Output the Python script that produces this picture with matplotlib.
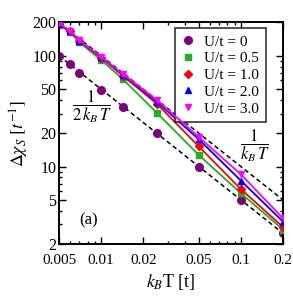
import matplotlib
matplotlib.use('Agg')
from matplotlib import pyplot as plt
from matplotlib.ticker import FixedLocator, NullFormatter, LogLocator

plt.rcParams['font.family'] = ['Liberation Serif', 'DejaVu Serif']
plt.rcParams['mathtext.fontset'] = 'stix'

# temperatures k_B T [t]
T = [0.005, 0.006, 0.007, 0.01, 0.0143, 0.025, 0.05, 0.1, 0.2]

# Delta chi_S for each U/t
chi_u0 = [100, 84, 70, 49.5, 34.8, 20, 10, 5, 2.5]
chi_u05 = [190, 164, 132, 91.7, 61.5, 30.7, 12.7, 5.74, 2.7]
chi_u10 = [193, 166, 136, 96, 66, 37, 15.2, 6.24, 2.85]
chi_u20 = [195, 167, 137, 97.5, 67.5, 38.5, 17.6, 7.46, 3.18]
chi_u30 = [196, 168, 138, 98, 68.5, 40, 18.5, 8.5, 3.41]

# reference lines 1/(k_B T) and 1/(2 k_B T)
ref_T = [0.005, 0.2]
ref_1 = [200, 5]
ref_2 = [100, 2.5]

labels = ['U/t = 0', 'U/t = 0.5', 'U/t = 1.0', 'U/t = 2.0', 'U/t = 3.0']
colors = ['#800080', '#22b022', '#ff0000', '#0000ff', '#ff00ff']
markers = ['o', 's', 'D', '^', 'v']
msizes = [5.5, 4.5, 3.8, 5, 5]

fig = plt.figure(figsize=(2.93, 2.99), dpi=100)
ax = fig.add_axes([0.2014, 0.184, 0.7645, 0.7408])

ax.plot(ref_T, ref_1, 'k--', lw=1.1, dashes=(3, 2), zorder=1)
ax.plot(ref_T, ref_2, 'k--', lw=1.1, dashes=(3, 2), zorder=1)

series = [chi_u0, chi_u05, chi_u10, chi_u20, chi_u30]
for i, ys in enumerate(series):
    ls = 'none' if i == 0 else '-'
    ax.plot(T, ys, linestyle=ls, color=colors[i], lw=1.3, marker=markers[i],
            ms=msizes[i], mec=colors[i], label=labels[i], zorder=2 + i)

ax.set_xscale('log')
ax.set_yscale('log')
ax.set_xlim(0.005, 0.2)
ax.set_ylim(2, 200)

xt = [0.005, 0.01, 0.02, 0.05, 0.1, 0.2]
yt = [2, 5, 10, 20, 50, 100, 200]
ax.xaxis.set_major_locator(FixedLocator(xt))
ax.set_xticklabels(['0.005', '0.01', '0.02', '0.05', '0.1', '0.2'])
ax.yaxis.set_major_locator(FixedLocator(yt))
ax.set_yticklabels(['2', '5', '10', '20', '50', '100', '200'])
ax.xaxis.set_minor_locator(LogLocator(base=10, subs=range(1, 10)))
ax.yaxis.set_minor_locator(LogLocator(base=10, subs=range(1, 10)))
ax.xaxis.set_minor_formatter(NullFormatter())
ax.yaxis.set_minor_formatter(NullFormatter())

ax.tick_params(which='both', direction='in', top=True, right=True, width=1)
ax.tick_params(which='major', length=5)
ax.tick_params(which='minor', length=2.5)
ax.tick_params(axis='y', pad=2, labelsize=11.5)
ax.tick_params(axis='x', pad=7, labelsize=11)
for s in ax.spines.values():
    s.set_linewidth(1.4)

ax.set_xlabel(r'$k_B$T [t]', fontsize=13, labelpad=4)
ax.set_ylabel(r'$\Delta\chi_S\ [t^{-1}]$', fontsize=13, labelpad=1)

ax.text(0.0086, 34.5, r'$\dfrac{1}{2\,k_B\,T}$', fontsize=12, ha='center', va='center')
ax.text(0.126, 15.3, r'$\dfrac{1}{k_B\,T}$', fontsize=12, ha='center', va='center')
ax.text(0.0081, 3.3, '(a)', fontsize=12, ha='center', va='center')

leg = ax.legend(loc='upper right', bbox_to_anchor=(0.925, 0.975), fontsize=11,
                frameon=True, fancybox=False, handlelength=0.9, handletextpad=0.6,
                labelspacing=0.2, borderpad=0.45, borderaxespad=0, numpoints=1)
leg.get_frame().set_edgecolor('black')
leg.get_frame().set_linewidth(1.2)
for h in leg.legend_handles:
    h.set_linestyle('none')

fig.savefig('out.png', dpi=100)
